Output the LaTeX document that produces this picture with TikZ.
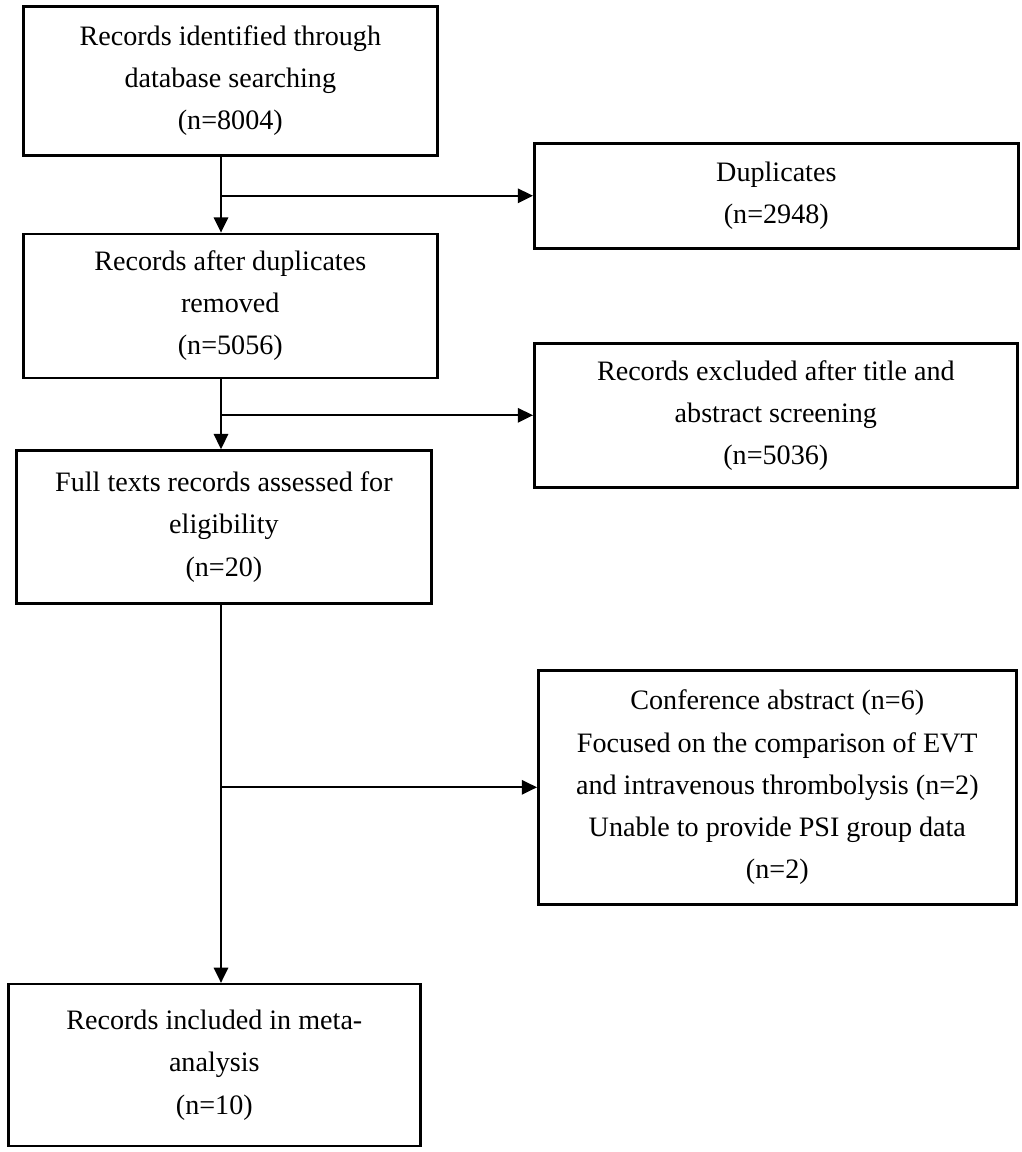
\documentclass[tikz,border=0pt]{standalone}
\usepackage{fontspec}
\setmainfont{Liberation Serif}
\usepackage{tikz}
\usetikzlibrary{positioning, arrows.meta}

\begin{document}
\begin{tikzpicture}[
    x=0.025cm, y=-0.025cm,
    squarenode/.style={rectangle, draw=black, line width=1.8pt, align=center, inner sep=1mm, font=\fontsize{20}{30}\selectfont},
    flowarrow/.style={line width=1.4pt, -{Triangle[length=0.38cm, width=0.36cm]}}
]
\useasboundingbox (0,0) rectangle (1021,1152);
\coordinate(trunk) at (221,0);
\node[squarenode, minimum width=10.35cm, minimum height=3.725cm, anchor=north west](b1) at (22,5){Records identified through\\database searching\\(n=8004)};
\node[squarenode, minimum width=10.35cm, minimum height=3.6cm](b2)[below = 1.9cm of b1]{Records after duplicates\\removed\\(n=5056)};
\node[squarenode, minimum width=10.375cm, minimum height=3.825cm](b3)[below = 1.75cm of b2, xshift=-0.16cm]{Full texts records assessed for\\eligibility\\(n=20)};
\node[squarenode, minimum width=10.3cm, minimum height=4.05cm](b4)[below = 9.45cm of b3, xshift=-0.24cm]{Records included in meta-\\analysis\\(n=10)};
\node[squarenode, minimum width=12.1cm, minimum height=2.625cm, anchor=north west](e1) at (533,142){Duplicates\\(n=2948)};
\node[squarenode, minimum width=12.075cm, minimum height=3.6cm, anchor=north west](e2) at (533,342){Records excluded after title and\\abstract screening\\(n=5036)};
\node[squarenode, minimum width=11.95cm, minimum height=5.85cm, anchor=north west](e3) at (537,669){Conference abstract (n=6)\\Focused on the comparison of EVT\\and intravenous thrombolysis (n=2)\\Unable to provide PSI group data\\(n=2)};
% main column
\draw[flowarrow] (b1.south -| trunk) -- (b2.north -| trunk);
\draw[flowarrow] (b2.south -| trunk) -- (b3.north -| trunk);
\draw[flowarrow] (b3.south -| trunk) -- (b4.north -| trunk);
% exclusions
\draw[flowarrow] (e1.west -| trunk) -- (e1.west);
\draw[flowarrow] (e2.west -| trunk) -- (e2.west);
\draw[flowarrow] (e3.west -| trunk) -- (e3.west);
\end{tikzpicture}
\end{document}
